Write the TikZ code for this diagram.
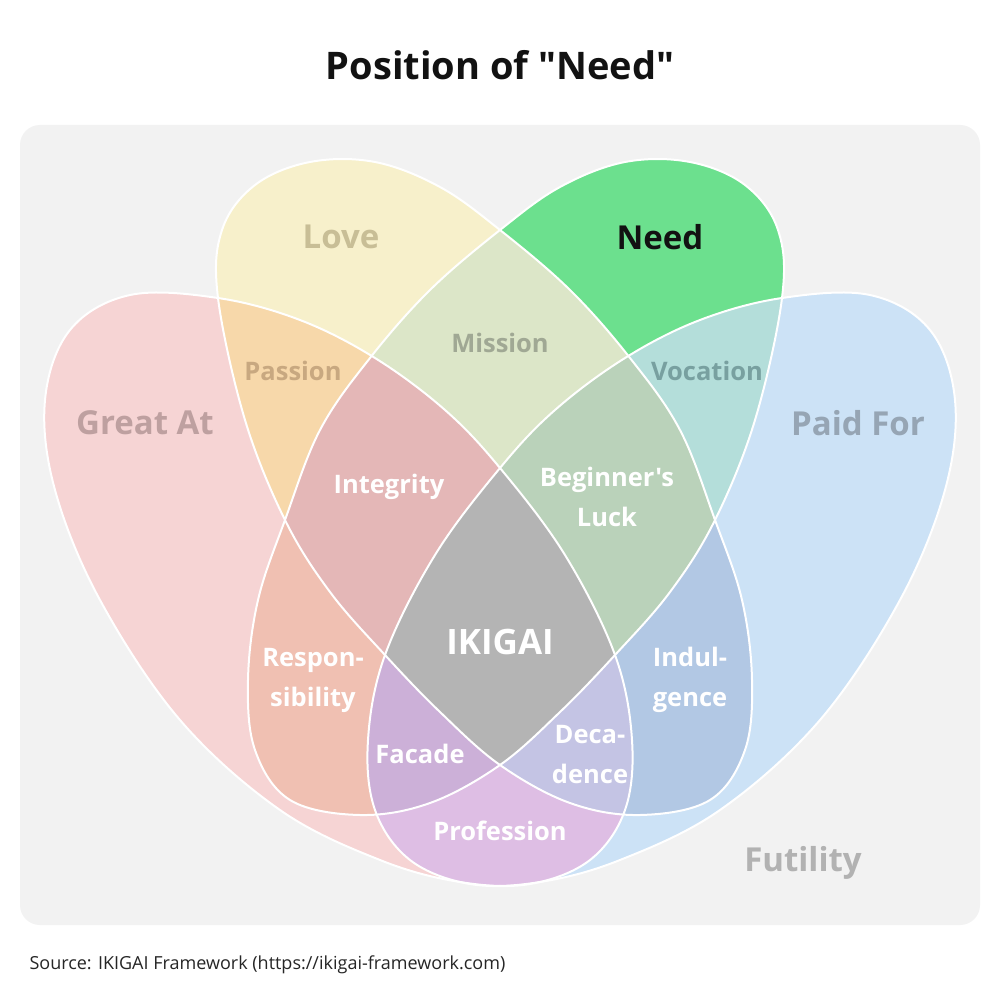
\documentclass[tikz,border=0pt]{standalone}
\usepackage{fontspec}
\setmainfont{Open Sans}[Ligatures=TeXOff]
\begin{document}
\definecolor{cG}{HTML}{F6D4D4}
\definecolor{cL}{HTML}{F7F0CB}
\definecolor{cN}{HTML}{6CE08E}
\definecolor{cP}{HTML}{CCE2F6}
\definecolor{cLG}{HTML}{F7D8AA}
\definecolor{cLN}{HTML}{DCE6C8}
\definecolor{cNP}{HTML}{B4DEDA}
\definecolor{cGP}{HTML}{DEBEE4}
\definecolor{cGN}{HTML}{F0C0B2}
\definecolor{cLP}{HTML}{B2C8E4}
\definecolor{cLGN}{HTML}{E4B7B7}
\definecolor{cLNP}{HTML}{BAD2BA}
\definecolor{cGNP}{HTML}{CCB0D8}
\definecolor{cLGP}{HTML}{C4C4E4}
\definecolor{cAll}{HTML}{B4B4B4}
\def\pG{plot[smooth cycle,tension=0.6] coordinates {(45,400) (70,330) (130,295) (218,298) (300,320) (375,358) (445,410) (500,468) (565,555) (615,655) (632,740) (625,810) (590,860) (530,884) (460,882) (380,860) (280,810) (180,720) (100,600) (55,490)}}
\def\pL{plot[smooth cycle,tension=0.6] coordinates {(218,298) (222,230) (255,185) (310,162) (375,162) (440,187) (500,230) (570,290) (630,358) (680,430) (715,520) (742,600) (752,680) (745,750) (710,800) (640,815) (570,803) (500,765) (440,712) (385,655) (330,592) (285,520) (245,420)}}
\begin{tikzpicture}[x=1pt,y=-1pt,
  mirror/.style={xshift=1000pt,xscale=-1},
  big/.style={font=\fontsize{33}{36}\selectfont\bfseries},
  mid/.style={font=\fontsize{25.5}{40}\selectfont\bfseries,align=center},
  wt/.style={mid,text=white}]
\useasboundingbox (0,0) rectangle (1000,1000);
\fill[white] (0,0) rectangle (1000,1000);
\fill[black!5,rounded corners=20pt] (20,125) rectangle (980,925);
\def\G#1{\path[#1] \pG;}
\def\P#1{\path[mirror,#1] \pG;}
\def\L#1{\path[#1] \pL;}
\def\N#1{\path[mirror,#1] \pL;}
\G{fill=cG}\P{fill=cP}\L{fill=cL}\N{fill=cN}
\begin{scope}\L{clip}\G{fill=cLG}\end{scope}
\begin{scope}\L{clip}\N{fill=cLN}\end{scope}
\begin{scope}\N{clip}\P{fill=cNP}\end{scope}
\begin{scope}\G{clip}\P{fill=cGP}\end{scope}
\begin{scope}\G{clip}\N{fill=cGN}\end{scope}
\begin{scope}\L{clip}\P{fill=cLP}\end{scope}
\begin{scope}\L{clip}\G{clip}\N{fill=cLGN}\end{scope}
\begin{scope}\L{clip}\N{clip}\P{fill=cLNP}\end{scope}
\begin{scope}\G{clip}\N{clip}\P{fill=cGNP}\end{scope}
\begin{scope}\L{clip}\G{clip}\P{fill=cLGP}\end{scope}
\begin{scope}\L{clip}\G{clip}\N{clip}\P{fill=cAll}\end{scope}
\G{draw=white,line width=2pt}\P{draw=white,line width=2pt}
\L{draw=white,line width=2pt}\N{draw=white,line width=2pt}
\node[font=\fontsize{38}{44}\selectfont\bfseries,text=black!93] (title) at (500,65) {Position of "Need"};
\node[big,text={rgb,255:red,200;green,190;blue,150}] (love) at (341,237) {Love};
\node[big,text=black!93] (need) at (660,237) {Need};
\node[big,text={rgb,255:red,190;green,160;blue,160}] (great) at (145,423) {Great At};
\node[big,text={rgb,255:red,150;green,165;blue,180}] (paid) at (858,423) {Paid For};
\node[mid,text={rgb,255:red,200;green,168;blue,128}] (passion) at (293,371) {Passion};
\node[mid,text={rgb,255:red,160;green,168;blue,148}] (mission) at (500,343) {Mission};
\node[mid,text={rgb,255:red,120;green,160;blue,160}] (vocation) at (707,371) {Vocation};
\node[wt] (integrity) at (389,487) {Integrity};
\node[wt] (luck) at (607,497) {Beginner's\\Luck};
\node[wt,font=\fontsize{35}{40}\selectfont\bfseries] (ikigai) at (500,642) {IKIGAI};
\node[wt] (resp) at (313,680) {Respon-\\sibility};
\node[wt] (indul) at (690,680) {Indul-\\gence};
\node[wt] (facade) at (420,754) {Facade};
\node[wt] (deca) at (590,755) {Deca-\\dence};
\node[wt] (prof) at (500,831) {Profession};
\node[big,text=black!30] (fut) at (803,863) {Futility};
\node[anchor=west,font=\fontsize{18}{20}\selectfont,text=black!85] (src) at (26,965) {Source: IKIGAI Framework (https://ikigai-framework.com)};
\end{tikzpicture}
\end{document}
